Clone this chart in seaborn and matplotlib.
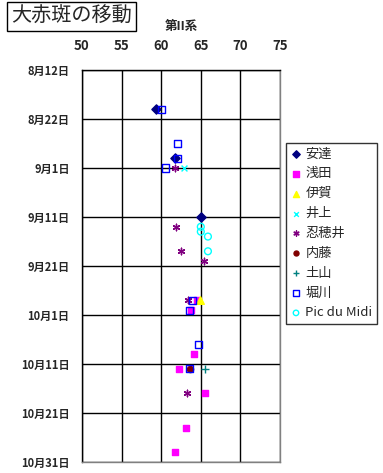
"""
Great Red Spot drift chart (System II longitude vs. date).
"""

import pandas as pd
import matplotlib.pyplot as plt
import seaborn as sns

YEAR = 2003

# observation data: longitude (System II) and date (MM-DD)
adachi_lon = [59.4, 61.8, 65.0]
adachi_date = ["08-20", "08-30", "09-11"]

asada_lon = [64.5, 63.7, 64.1, 62.3, 65.5, 63.1, 61.7]
asada_date = ["09-28", "09-30", "10-09", "10-12", "10-17", "10-24", "10-29"]

iga_lon = [64.9]
iga_date = ["09-28"]

inoue_lon = [62.9]
inoue_date = ["09-01"]

oshoi_lon = [61.8, 61.9, 62.5, 65.4, 63.4, 63.3]
oshoi_date = ["09-01", "09-13", "09-18", "09-20", "09-28", "10-17"]

naito_lon = [63.6]
naito_date = ["10-12"]

tsuchiyama_lon = [65.5]
tsuchiyama_date = ["10-12"]

horikawa_lon = [60.0, 62.0, 62.0, 60.6, 64.0, 63.6, 64.7, 63.6]
horikawa_date = ["08-20", "08-27", "08-30", "09-01", "09-28", "09-30", "10-07", "10-12"]

pic_lon = [65.0, 65.0, 65.9, 65.9]
pic_date = ["09-13", "09-14", "09-15", "09-18"]

xticks = [50, 55, 60, 65, 70, 75]
ytick_dates = ["08-12", "08-22", "09-01", "09-11", "09-21", "10-01", "10-11", "10-21", "10-31"]
ytick_labels = ["8月12日", "8月22日", "9月1日", "9月11日", "9月21日",
                "10月1日", "10月11日", "10月21日", "10月31日"]


def to_dates(md):
    return pd.to_datetime([f"{YEAR}-{d}" for d in md])


# name, lon, date, marker, size, facecolor, edgecolor
series = [
    ("安達", adachi_lon, adachi_date, "D", 22, "#000080", "#000080"),
    ("浅田", asada_lon, asada_date, "s", 24, "#FF00FF", "#FF00FF"),
    ("伊賀", iga_lon, iga_date, "^", 30, "#FFFF00", "#FFFF00"),
    ("井上", inoue_lon, inoue_date, "x", 18, None, "#00FFFF"),
    ("忍穂井", oshoi_lon, oshoi_date, (6, 2, 0), 22, None, "#800080"),
    ("内藤", naito_lon, naito_date, "o", 20, "#800000", "#800000"),
    ("土山", tsuchiyama_lon, tsuchiyama_date, "+", 26, None, "#008080"),
    ("堀川", horikawa_lon, horikawa_date, "s", 26, "none", "#0000FF"),
    ("Pic du Midi", pic_lon, pic_date, "o", 24, "none", "#00FFFF"),
]

sns.set_theme(style="white")
plt.rcParams["font.family"] = ["Noto Sans CJK JP", "DejaVu Sans"]

fig = plt.figure(figsize=(3.83, 4.73), dpi=100)
ax = fig.add_axes([0.2141, 0.0233, 0.517, 0.8288])

for name, lon, md, marker, size, fc, ec in series:
    kws = dict(marker=marker, s=size, linewidth=1, label=name, legend=False, ax=ax)
    if fc is None:
        kws["color"] = ec
    else:
        kws["facecolor"] = fc
        kws["edgecolor"] = ec
    sns.scatterplot(x=lon, y=to_dates(md), **kws)

yt = to_dates(ytick_dates)
ax.set_xlim(50, 75)
ax.set_ylim(yt[-1], yt[0])
ax.set_xticks(xticks)
ax.set_yticks(yt)
ax.set_yticklabels(ytick_labels)
ax.xaxis.tick_top()
ax.tick_params(axis="x", length=0, pad=12, labelsize=9.5)
ax.tick_params(axis="y", length=0, pad=9, labelsize=8)
for lab in ax.get_xticklabels() + ax.get_yticklabels():
    lab.set_fontweight("bold")

ax.grid(True, color="black", linewidth=1)
for side in ["top", "left"]:
    ax.spines[side].set_color("black")
    ax.spines[side].set_linewidth(1)
for side in ["right", "bottom"]:
    ax.spines[side].set_color("#808080")
    ax.spines[side].set_linewidth(1)
ax.set_xlabel("")
ax.set_ylabel("")

fig.text(0.03, 0.966, "大赤斑の移動", fontsize=14.5, ha="left", va="center",
         bbox=dict(boxstyle="square,pad=0.2", fc="white", ec="black", lw=1))
fig.text(0.473, 0.945, "第II系", fontsize=9, fontweight="bold", ha="center", va="center")

leg = ax.legend(loc="upper left", bbox_to_anchor=(0.747, 0.698), bbox_transform=fig.transFigure,
                borderaxespad=0, fontsize=9.5, labelspacing=0.52, handletextpad=0.3,
                handlelength=0.8, borderpad=0.35, markerscale=0.8,
                frameon=True, fancybox=False)
leg.get_frame().set_edgecolor("black")
leg.get_frame().set_linewidth(1)

fig.savefig("out.png", dpi=100)
